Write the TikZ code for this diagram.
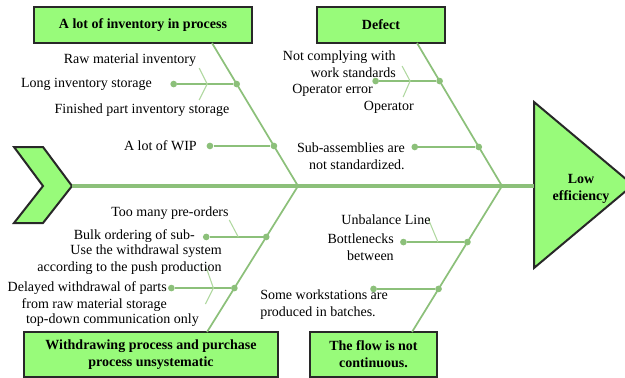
\documentclass[tikz,border=0pt]{standalone}
\usepackage{fontspec}
\setmainfont{Liberation Serif}
\usetikzlibrary{calc}
\definecolor{bonegreen}{RGB}{140,192,122}
\definecolor{twiggreen}{RGB}{176,216,160}
\definecolor{boxgreen}{RGB}{152,251,122}
\definecolor{boxedge}{RGB}{40,40,40}

\begin{document}
\begin{tikzpicture}[x=0.75pt,y=-0.75pt,
    font=\fontsize{10.5}{12.75}\selectfont,
    causebox/.style={draw=boxedge,line width=1.5pt,fill=boxgreen,align=center,
        font=\fontsize{10.5}{12.75}\selectfont\bfseries,inner sep=0pt},
    spine/.style={draw=bonegreen,line width=2.6pt},
    bone/.style={draw=bonegreen,line width=1.3pt},
    twig/.style={draw=twiggreen,line width=0.8pt},
    dot/.style={circle,fill=bonegreen,inner sep=0pt,minimum size=5pt},
    lbl/.style={inner sep=0pt,align=right}]
    \clip (0,0) rectangle (625,378);

    % tail and head
    \draw[draw=boxedge,line width=1.5pt,fill=boxgreen,line join=miter]
        (14,147) -- (43,147) -- (72,186) -- (43,223) -- (14,223) -- (43,186) -- cycle;
    \draw[draw=boxedge,line width=1.5pt,fill=boxgreen]
        (534,102) -- (633,185) -- (534,268) -- cycle;
    \node[font=\fontsize{10.5}{12.75}\selectfont\bfseries,align=center,inner sep=0pt] (effect) at (581,189) {Low\\efficiency};
    \coordinate (tail) at (72,186);
    \coordinate (head) at (534,186);
    \draw[spine] (tail) -- (head);

    % cause boxes
    \node[causebox,minimum width=163.5pt,minimum height=27pt] (invbox) at (143,25) {A lot of inventory in process};
    \node[causebox,minimum width=96pt,minimum height=27pt] (defbox) at (381,25) {Defect};
    \node[causebox,minimum width=190.5pt,minimum height=33.75pt] (wdbox) at (151,354.5) {Withdrawing process and purchase\\process unsystematic};
    \node[causebox,minimum width=95.25pt,minimum height=33.75pt] (flowbox) at (373.5,354.5) {The flow is not\\continuous.};

    % bones
    \coordinate (t1) at (212,43);
    \coordinate (t2) at (417,43);
    \coordinate (b1) at (207,332);
    \coordinate (b2) at (412,332);
    \coordinate (j1) at (298,186);
    \coordinate (j2) at (502,186);
    \draw[bone] (t1) -- (j1) -- (b1);
    \draw[bone] (t2) -- (j2) -- (b2);

    % A lot of inventory in process
    \node[dot] (d11) at ($(t1)!0.287!(j1)$) {};
    \node[dot] (e11) at ($(d11)+(-63,0)$) {};
    \draw[bone] (e11) -- (d11);
    \coordinate (f11) at ($(d11)+(-29.5,0)$);
    \coordinate (f11a) at ($(f11)+(-8,-16)$);
    \coordinate (f11b) at ($(f11)+(-8,16)$);
    \draw[twig] (f11a) -- (f11) -- (f11b);
    \node[lbl] (raw) at (130,60) {Raw material inventory};
    \node[lbl,anchor=east] (long) at (152,84) {Long inventory storage};
    \node[lbl] (fin) at (142,110) {Finished part inventory storage};
    \node[dot] (d12) at ($(t1)!0.72!(j1)$) {};
    \node[dot] (e12) at ($(d12)+(-64,0)$) {};
    \draw[bone] (e12) -- (d12);
    \node[lbl,anchor=east] (wip) at (197,146) {A lot of WIP};

    % Defect
    \node[dot] (d21) at ($(t2)!0.266!(j2)$) {};
    \node[dot] (e21) at ($(d21)+(-64,0)$) {};
    \draw[bone] (e21) -- (d21);
    \coordinate (f21) at ($(d21)+(-29.5,0)$);
    \coordinate (f21a) at ($(f21)+(-8,-15)$);
    \coordinate (f21b) at ($(f21)+(-7,16)$);
    \draw[twig] (f21a) -- (f21) -- (f21b);
    \node[lbl,anchor=east] (std) at (396,64) {Not complying with\\work standards};
    \node[lbl,anchor=east] (operr) at (373,90) {Operator error};
    \node[lbl,anchor=east] (oper) at (414,107) {Operator};
    \node[dot] (d22) at ($(t2)!0.727!(j2)$) {};
    \node[dot] (e22) at ($(d22)+(-64,0)$) {};
    \draw[bone] (e22) -- (d22);
    \node[lbl,anchor=east] (subass) at (405,156) {Sub-assemblies are\\not standardized.};

    % Withdrawing process and purchase process unsystematic
    \node[dot] (d31) at ($(j1)!0.349!(b1)$) {};
    \node[dot] (e31) at ($(d31)+(-60,0)$) {};
    \draw[bone] (e31) -- (d31);
    \coordinate (f31) at ($(d31)+(-28,0)$);
    \coordinate (f31a) at ($(f31)+(-9,-17)$);
    \draw[twig] (f31a) -- (f31);
    \node[lbl] (preord) at (170,213) {Too many pre-orders};
    \node[lbl,anchor=east] (bulk) at (195,236) {Bulk ordering of sub-};
    \node[dot] (d32) at ($(j1)!0.699!(b1)$) {};
    \node[dot] (e32) at ($(d32)+(-63,0)$) {};
    \draw[bone] (e32) -- (d32);
    \coordinate (f32) at ($(d32)+(-21,0)$);
    \coordinate (f32a) at ($(f32)+(-7,-20)$);
    \coordinate (f32b) at ($(f32)+(-8,16)$);
    \draw[twig] (f32a) -- (f32) -- (f32b);
    \node[lbl,anchor=east] (push) at (222,259.5) {Use the withdrawal system\\according to the push production};
    \node[lbl,anchor=east] (delay) at (167,296.5) {Delayed withdrawal of parts\\from raw material storage};
    \node[lbl,anchor=east] (topdown) at (199,320) {top-down communication only};

    % The flow is not continuous.
    \node[dot] (d41) at ($(j2)!0.384!(b2)$) {};
    \node[dot] (e41) at ($(d41)+(-64,0)$) {};
    \draw[bone] (e41) -- (d41);
    \coordinate (f41) at ($(d41)+(-29.5,0)$);
    \coordinate (f41a) at ($(f41)+(-10,-24)$);
    \draw[twig] (f41a) -- (f41);
    \node[lbl] (unbal) at (386,220) {Unbalance Line};
    \node[lbl,anchor=east] (bottle) at (394,247.5) {Bottlenecks\\between};
    \node[dot] (d42) at ($(j2)!0.705!(b2)$) {};
    \node[dot] (e42) at ($(d42)+(-65,0)$) {};
    \draw[bone] (e42) -- (d42);
    \node[lbl,anchor=west,align=left] (batch) at (260,305) {Some workstations are\\produced in batches.};
\end{tikzpicture}
\end{document}
